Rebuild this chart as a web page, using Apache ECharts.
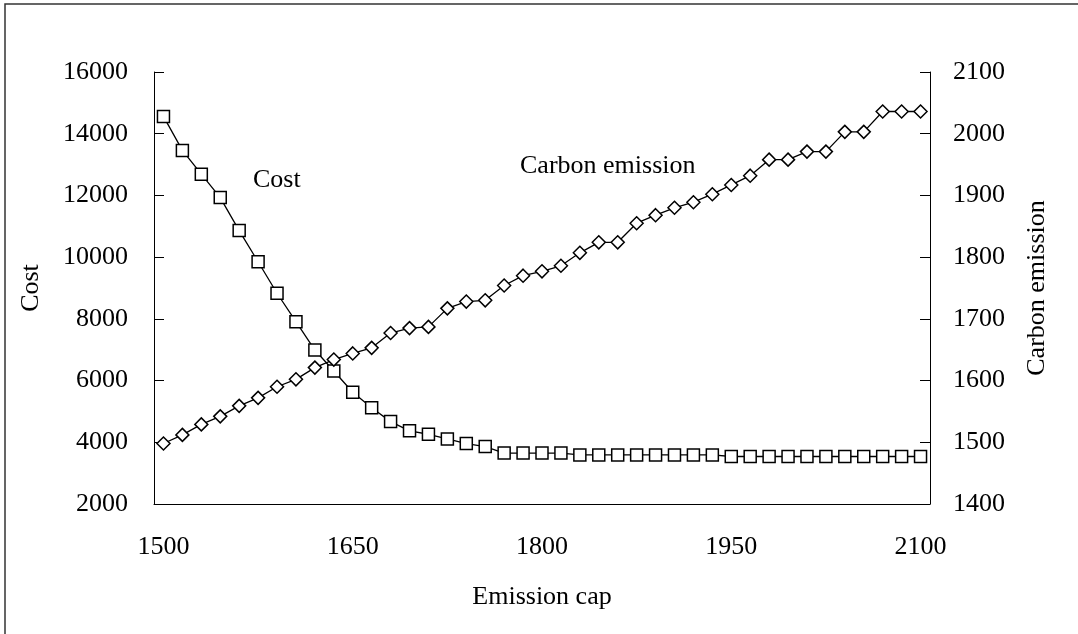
<!DOCTYPE html>
<html>
<head>
<meta charset="utf-8">
<script src="https://cdn.jsdelivr.net/npm/echarts@6/dist/echarts.min.js"></script>
<style>
  html, body { margin: 0; padding: 0; background: #fff; }
  #main { width: 1078px; height: 634px; }
</style>
</head>
<body>
<div id="main"></div>
<script>
// emission cap values (x categories)
const caps = [1500, 1515, 1530, 1545, 1560, 1575, 1590, 1605, 1620, 1635,
  1650, 1665, 1680, 1695, 1710, 1725, 1740, 1755, 1770, 1785,
  1800, 1815, 1830, 1845, 1860, 1875, 1890, 1905, 1920, 1935,
  1950, 1965, 1980, 1995, 2010, 2025, 2040, 2055, 2070, 2085, 2100];

const cost = [14560, 13460, 12690, 11930, 10860, 9850, 8830, 7910, 6990, 6310,
  5620, 5120, 4670, 4370, 4260, 4110, 3960, 3860, 3650, 3650,
  3650, 3650, 3590, 3590, 3590, 3590, 3590, 3590, 3590, 3590,
  3540, 3540, 3540, 3540, 3540, 3540, 3540, 3540, 3540, 3540, 3540];

const emission = [1498, 1512, 1529, 1542, 1559, 1572, 1590, 1602, 1621, 1634,
  1644, 1653, 1677, 1685, 1687, 1717, 1728, 1730, 1754, 1770,
  1777, 1786, 1807, 1824, 1824, 1855, 1868, 1880, 1889, 1902,
  1917, 1932, 1958, 1958, 1971, 1971, 2003, 2003, 2036, 2036, 2036];

const font = 'Liberation Serif, Times New Roman, serif';

let myChart = echarts.init(document.getElementById('main'))
myChart.setOption({
  animation: false,
  textStyle: { fontFamily: font, color: '#000' },
  grid: { left: 154, right: 148, top: 72, bottom: 130 },
  graphic: [
    {
      type: 'rect',
      shape: { x: 5, y: 4, width: 1300, height: 800 },
      style: { fill: 'none', stroke: '#333', lineWidth: 1.5 }
    },
    {
      type: 'text', left: 253, top: 167,
      style: { text: 'Cost', font: '26px ' + font, fill: '#000' }
    },
    {
      type: 'text', left: 520, top: 153,
      style: { text: 'Carbon emission', font: '26px ' + font, fill: '#000' }
    }
  ],
  xAxis: {
    type: 'category',
    data: caps,
    boundaryGap: true,
    name: 'Emission cap',
    nameLocation: 'middle',
    nameGap: 80,
    nameTextStyle: { fontSize: 26, fontFamily: font, color: '#000' },
    axisLine: { lineStyle: { color: '#000', width: 1 } },
    axisTick: { inside: true, length: 9, interval: 4, lineStyle: { color: '#000' } },
    axisLabel: { interval: 9, margin: 30, fontSize: 26, fontFamily: font, color: '#000' },
    splitLine: { show: false }
  },
  yAxis: [
    {
      type: 'value',
      min: 2000, max: 16000, interval: 2000,
      name: 'Cost',
      nameLocation: 'middle',
      nameRotate: 90,
      nameGap: 110,
      nameTextStyle: { fontSize: 26, fontFamily: font, color: '#000' },
      axisLine: { show: true, lineStyle: { color: '#000', width: 1 } },
      axisTick: { show: true, inside: true, length: 10, lineStyle: { color: '#000' } },
      axisLabel: { margin: 26, fontSize: 26, fontFamily: font, color: '#000',
        formatter: (v) => String(v) },
      splitLine: { show: false }
    },
    {
      type: 'value',
      position: 'right',
      min: 1400, max: 2100, interval: 100,
      name: 'Carbon emission',
      nameLocation: 'middle',
      nameRotate: 90,
      nameGap: 94,
      nameTextStyle: { fontSize: 26, fontFamily: font, color: '#000' },
      axisLine: { show: true, lineStyle: { color: '#000', width: 1 } },
      axisTick: { show: true, inside: true, length: 10, lineStyle: { color: '#000' } },
      axisLabel: { margin: 23, fontSize: 26, fontFamily: font, color: '#000',
        formatter: (v) => String(v) },
      splitLine: { show: false }
    }
  ],
  series: [
    {
      name: 'Cost',
      type: 'line',
      yAxisIndex: 0,
      data: cost,
      symbol: 'rect',
      symbolSize: 12,
      showAllSymbol: true,
      lineStyle: { color: '#000', width: 1.3 },
      itemStyle: { color: '#fff', borderColor: '#000', borderWidth: 1.5 }
    },
    {
      name: 'Carbon emission',
      type: 'line',
      yAxisIndex: 1,
      data: emission,
      symbol: 'diamond',
      symbolSize: 13,
      showAllSymbol: true,
      lineStyle: { color: '#000', width: 1.3 },
      itemStyle: { color: '#fff', borderColor: '#000', borderWidth: 1.5 }
    }
  ]
});
</script>
</body>
</html>
